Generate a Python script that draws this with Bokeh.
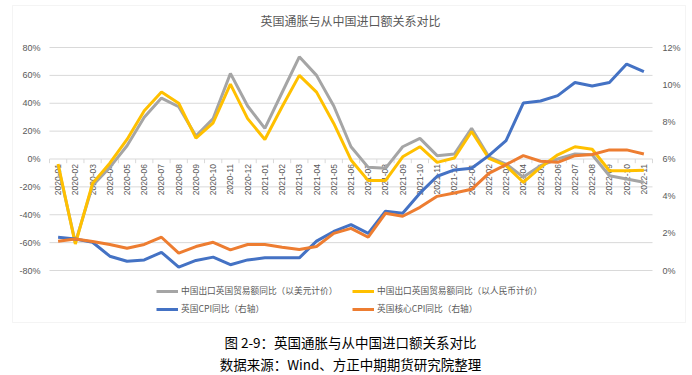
import numpy as np
from math import pi
from bokeh.plotting import figure
from bokeh.models import (Range1d, LinearAxis, FixedTicker, PrintfTickFormatter,
                          Label, Legend, LegendItem, BoxAnnotation)
from bokeh.core.properties import value
from bokeh.embed import file_html
from bokeh.resources import INLINE

months = ["2020-01", "2020-02", "2020-03", "2020-04", "2020-05", "2020-06", "2020-07",
          "2020-08", "2020-09", "2020-10", "2020-11", "2020-12", "2021-01", "2021-02",
          "2021-03", "2021-04", "2021-05", "2021-06", "2021-07", "2021-08", "2021-09",
          "2021-10", "2021-11", "2021-12", "2022-01", "2022-02", "2022-03", "2022-04",
          "2022-05", "2022-06", "2022-07", "2022-08", "2022-09", "2022-10", "2022-11"]

# left axis (%)
export_usd = [-5, -60, -19, -6, 9.5, 30, 43.7, 37.5, 16.5, 29, 61.4, 38, 22, 47.7,
              73.3, 60, 38, 8.8, -6, -6.7, 8.8, 14.8, 2.4, 3.6, 22, 1.6, -3.6, -13,
              -4.8, 0, 3.6, 3, -12, -14.4, -16.7]
export_cny = [-3.6, -61, -17.5, -3, 14, 34.6, 48, 40, 15, 26, 53.7, 29, 14, 37.5,
              60, 48, 25.5, -0.7, -15.5, -15.5, 1.6, 8.8, -2.4, 0.7, 19.7, 0.5, -4.8,
              -16.7, -6, 3, 8.8, 7, -8.4, -8.4, -8]
# right axis (%)
uk_cpi = [1.79, 1.70, 1.52, 0.77, 0.50, 0.57, 0.98, 0.18, 0.54, 0.72, 0.31, 0.57, 0.68,
          0.68, 0.68, 1.58, 2.10, 2.47, 2.0, 3.19, 3.08, 4.16, 5.07, 5.41, 5.5, 6.18,
          6.99, 9.01, 9.12, 9.41, 10.12, 9.93, 10.12, 11.11, 10.70]
uk_core_cpi = [1.58, 1.70, 1.56, 1.40, 1.20, 1.40, 1.79, 0.93, 1.29, 1.52, 1.11, 1.40,
               1.40, 1.25, 1.13, 1.29, 2.0, 2.27, 1.79, 3.08, 2.92, 3.40, 3.99, 4.17,
               4.37, 5.23, 5.70, 6.18, 5.88, 5.82, 6.18, 6.24, 6.49, 6.49, 6.27]

left_ticks = [-80, -60, -40, -20, 0, 20, 40, 60, 80]
right_ticks = [0, 2, 4, 6, 8, 10, 12]

series_names = ["中国出口英国贸易额同比（以美元计价）", "中国出口英国贸易额同比（以人民币计价）",
                "英国CPI同比（右轴）", "英国核心CPI同比（右轴）"]
title_text = "英国通胀与从中国进口额关系对比"
caption1 = "图 2-9：英国通胀与从中国进口额关系对比"
caption2 = "数据来源：Wind、方正中期期货研究院整理"

xs = np.arange(len(months))

W, H = 692, 375
# plot-area pixel box inside the canvas
PX_L, PX_R, PX_T, PX_B = 49, 652, 47, 270

GRID = "#d9d9d9"
TXT = "#595959"
CJK = "Noto Sans CJK SC"

# data ranges expanded so that the plot area sits at the pixel box above,
# while the frame covers the whole canvas (so annotations are not clipped)
x_lo, x_hi = -0.5, len(months) - 0.5
kx = (x_hi - x_lo) / (PX_R - PX_L)
xr = Range1d(x_lo - PX_L * kx, x_hi + (W - PX_R) * kx)
y_lo, y_hi = left_ticks[0], left_ticks[-1]
ky = (y_hi - y_lo) / (PX_B - PX_T)
yr = Range1d(y_lo - (H - PX_B) * ky, y_hi + PX_T * ky)
r_lo, r_hi = right_ticks[0], right_ticks[-1]
conv = (r_hi - r_lo) / (y_hi - y_lo)
rr = Range1d(r_lo + (yr.start - y_lo) * conv, r_lo + (yr.end - y_lo) * conv)

p = figure(width=W, height=H, output_backend="svg", toolbar_location=None,
           x_range=xr, y_range=yr, x_axis_location=None, y_axis_location=None,
           min_border=0)
p.outline_line_color = None
p.extra_y_ranges = {"right": rr}
p.xgrid.visible = False
p.ygrid.visible = False

la = LinearAxis(ticker=FixedTicker(ticks=left_ticks),
                formatter=PrintfTickFormatter(format="%d%%"), fixed_location=x_lo)
ra = LinearAxis(y_range_name="right", ticker=FixedTicker(ticks=right_ticks),
                formatter=PrintfTickFormatter(format="%d%%"), fixed_location=x_hi)
p.add_layout(la, "left")
p.add_layout(ra, "right")
for ax, so in ((la, 9), (ra, 10)):
    ax.axis_line_color = None
    ax.major_tick_line_color = None
    ax.minor_tick_line_color = None
    ax.major_tick_out = 0
    ax.major_tick_in = 0
    ax.major_label_standoff = so
    ax.major_label_text_font_size = "9px"
    ax.major_label_text_color = TXT
    ax.major_label_text_font = "Liberation Sans"

# horizontal gridlines across the plot area
p.segment(x0=[x_lo] * len(left_ticks), x1=[x_hi] * len(left_ticks),
          y0=left_ticks, y1=left_ticks, line_color=GRID, line_width=1)

# tick marks on the zero line at category boundaries
bx = np.arange(len(months) + 1) - 0.5
p.segment(x0=bx, y0=0, x1=bx, y1=-3, line_color=GRID, line_width=1)

# category labels along the zero line
p.text(x=xs, y=[0] * len(months), text=months, angle=pi / 2, text_align="right",
       text_baseline="middle", y_offset=5, text_font=value("Liberation Sans"),
       text_font_size="8.5px", text_color=TXT)

r1 = p.line(xs, export_usd, line_color="#a5a5a5", line_width=3)
r2 = p.line(xs, export_cny, line_color="#ffc000", line_width=3)
r3 = p.line(xs, uk_cpi, line_color="#4472c4", line_width=3, y_range_name="right")
r4 = p.line(xs, uk_core_cpi, line_color="#ed7d31", line_width=3, y_range_name="right")

legend = Legend(items=[LegendItem(label=n, renderers=[r]) for n, r in
                       zip(series_names, [r1, r2, r3, r4])],
                orientation="horizontal", ncols=2, location=(156, H - 317.5),
                padding=0, margin=0, spacing=0, glyph_width=22, glyph_height=18,
                label_height=18, label_width=171, label_standoff=3,
                label_text_font=CJK, label_text_font_size="8.7px",
                label_text_color=TXT, border_line_color=None,
                background_fill_alpha=0)
p.add_layout(legend)

# chart border
p.add_layout(BoxAnnotation(left=12, right=685, top=H - 5, bottom=H - 322,
                           left_units="screen", right_units="screen",
                           top_units="screen", bottom_units="screen",
                           fill_alpha=0, line_color=GRID, line_width=1))

p.add_layout(Label(x=350, y=H - 20, x_units="screen", y_units="screen", text=title_text,
                   text_align="center", text_baseline="middle", text_font=CJK,
                   text_font_size="12px", text_color=TXT))
p.add_layout(Label(x=350, y=H - 341.5, x_units="screen", y_units="screen", text=caption1,
                   text_align="center", text_baseline="middle", text_font=CJK,
                   text_font_size="13.5px", text_color="#000000"))
p.add_layout(Label(x=350, y=H - 363, x_units="screen", y_units="screen", text=caption2,
                   text_align="center", text_baseline="middle", text_font=CJK,
                   text_font_size="13.5px", text_color="#000000"))

open("out.html", "w").write(file_html(p, INLINE))
